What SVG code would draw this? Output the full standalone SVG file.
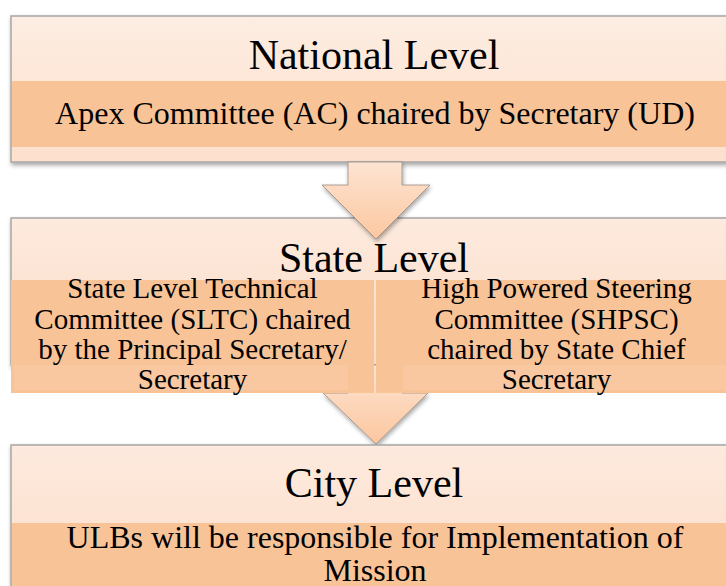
<svg xmlns="http://www.w3.org/2000/svg" width="726" height="586" viewBox="0 0 726 586">
<defs>
<style>
text{font-family:'Liberation Serif','DejaVu Serif',serif;fill:#000;text-anchor:middle}
.title{font-size:42px}
.sub{font-size:32px}
.sm{font-size:29px}
.box{stroke:#a6a6a6;stroke-width:1.5}
.band{fill:#f9c398}
.glare{fill:#fbd3b6;opacity:0.25}
.arrow{fill:url(#ag);stroke:#9a8a80;stroke-width:0.8}
</style>
<linearGradient id="g1" x1="0" y1="0" x2="0" y2="1">
<stop offset="0" stop-color="#fdede2"/><stop offset="1" stop-color="#fde0cd"/>
</linearGradient>
<linearGradient id="g2" x1="0" y1="0" x2="0" y2="1">
<stop offset="0" stop-color="#fdeade"/><stop offset="1" stop-color="#fcdcc7"/>
</linearGradient>
<linearGradient id="ag" x1="0" y1="0" x2="0" y2="1">
<stop offset="0" stop-color="#fde4d2"/><stop offset="1" stop-color="#fcc7a0"/>
</linearGradient>
<filter id="sh" x="-5%" y="-10%" width="115%" height="130%">
<feDropShadow dx="1" dy="2.5" stdDeviation="2" flood-color="#000" flood-opacity="0.35"/>
</filter>
</defs>

<g id="national">
<rect class="box" x="11" y="16" width="730" height="146" fill="url(#g1)" filter="url(#sh)"/>
<rect class="band" x="12" y="81" width="730" height="66"/>
<text class="title" x="374" y="69">National Level</text>
<text class="sub" x="375" y="124">Apex Committee (AC) chaired by Secretary (UD)</text>
</g>

<g id="state-box">
<rect class="box" x="11" y="218" width="730" height="147" fill="url(#g2)" filter="url(#sh)"/>
</g>

<g id="connectors">
<path class="arrow" filter="url(#sh)" d="M348,162 L402,162 L402,185 L430,185 L376,239 L322,185 L348,185 Z"/>
<path class="arrow" filter="url(#sh)" d="M348,365 L402,365 L402,393 L428,393 L376,444 L323,393 L348,393 Z"/>
</g>

<g id="state">
<rect class="band" x="11" y="280" width="363" height="113"/>
<rect class="band" x="376" y="280" width="365" height="113"/>
<rect class="glare" x="14" y="365" width="334" height="25"/>
<rect class="glare" x="403" y="365" width="338" height="25"/>
<text class="title" x="374" y="272">State Level</text>
</g>

<g id="sltc">
<text class="sm" x="192.5" y="298">State Level Technical</text>
<text class="sm" x="192.5" y="329">Committee (SLTC) chaired</text>
<text class="sm" x="192.5" y="359">by the Principal Secretary/</text>
<text class="sm" x="192.5" y="389">Secretary</text>
</g>

<g id="shpsc">
<text class="sm" x="556.5" y="298">High Powered Steering</text>
<text class="sm" x="556.5" y="329">Committee (SHPSC)</text>
<text class="sm" x="556.5" y="359">chaired by State Chief</text>
<text class="sm" x="556.5" y="389">Secretary</text>
</g>

<g id="city">
<rect class="box" x="11" y="445" width="730" height="160" fill="url(#g2)" filter="url(#sh)"/>
<rect class="band" x="12" y="523" width="730" height="70"/>
<text class="title" x="374" y="497">City Level</text>
<text class="sub" x="375" y="548">ULBs will be responsible for Implementation of</text>
<text class="sub" x="375" y="581">Mission</text>
</g>
</svg>
